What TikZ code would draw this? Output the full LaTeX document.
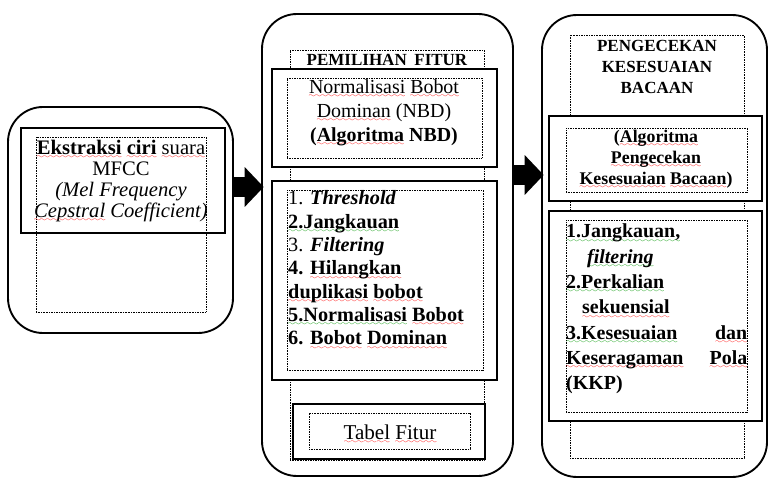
\documentclass[tikz,border=0pt]{standalone}
\usepackage{fontspec}
\setmainfont{Liberation Serif}
\usetikzlibrary{fit,arrows.meta,positioning}

% garis bergelombang (cek ejaan)
\font\wavefont=lasy6
\newcommand\squig[2]{\setbox0\hbox{#2}\leavevmode\rlap{\lower3.6pt\hbox to\wd0{\color{#1}\xleaders\hbox{\wavefont\char58}\hfill}}\box0\relax}
\newcommand\rw{\squig{red}}
\newcommand\gw{\squig{green!60!black}}

\tikzset{
  roundbox/.style={draw, line width=1.6pt, rounded corners=1.05cm, inner sep=0pt},
  thickbox/.style={draw, line width=2.5pt, fill=white, inner sep=0pt},
  dotbox/.style={draw, line width=0.6pt, dash pattern=on 0.7pt off 0.7pt, inner sep=0pt},
  fatarrow/.style={line width=0.6cm, shorten >=-0.08cm, -{Triangle[length=0.57cm, width=1.16cm]}},
  bigtxt/.style={inner sep=0pt, font=\fontsize{17}{18}\selectfont},
  midtxt/.style={inner sep=0pt, font=\fontsize{14.5}{17.9}\selectfont\bfseries}
}

\begin{document}
\begin{tikzpicture}[x=0.03cm, y=-0.03cm]
    \useasboundingbox (0,0) rectangle (770,478);

    % ekstraksi ciri
    \node[roundbox, fit={(8,107) (233,333)}]     (lbox) {};
    \node[thickbox, fill=none, fit={(21,128) (225,233)}] (lframe) {};
    \node[dotbox, fit={(36,137) (206,312)}]      (ldots) {};
    \node[bigtxt, align=center, font=\fontsize{17.6}{18}\selectfont] (ltext) at (121,181)
        {\textbf{\rw{Ekstraksi} \rw{ciri}} \rw{suara}\\MFCC\\\textit{(Mel Frequency}\\\textit{\rw{Cepstral} Coefficient)}};

    % pemilihan fitur
    \node[roundbox, fit={(262,14) (513,476)}]    (mbox) {};
    \node[dotbox, fit={(290,50) (484,460)}]      (mcol) {};
    \node[midtxt] (mtitle) at (387,60) {PEMILIHAN\hspace{0.45em}FITUR};
    \node[thickbox, fit={(272,69) (497,167)}]    (nbdbox) {};
    \node[dotbox, fit={(287,78) (482,158)}]      (nbddots) {};
    \node[bigtxt, align=center, font=\fontsize{17}{20.5}\selectfont] (nbdtext) at (384,113)
        {\rw{Normalisasi} \rw{Bobot}\\\rw{Dominan} (NBD)\\\textbf{(\rw{Algoritma} NBD)}};
    \node[thickbox, fit={(272,181) (497,380)}]   (stepbox) {};
    \node[dotbox, fit={(287,190) (483,370)}]     (stepdots) {};
    \node[bigtxt, align=left, anchor=west, font=\fontsize{17.3}{19.9}\selectfont\bfseries] (steptext) at (288,270)
        {{\mdseries 1.} \textit{Threshold}\\\gw{2.Jangkauan}\\{\mdseries 3.} \textit{Filtering}\\4. \rw{Hilangkan}\\
         \rw{duplikasi} \rw{bobot}\\\gw{5.Normalisasi} \rw{Bobot}\\6. \rw{Bobot} \rw{Dominan}};
    \node[thickbox, fit={(293,404) (485,459)}]   (tabbox) {};
    \node[dotbox, fit={(309,413) (470,449)}]     (tabdots) {};
    \node[bigtxt, font=\fontsize{18}{20}\selectfont] (tabtext) at (390,434) {\rw{Tabel} \rw{Fitur}};

    % pengecekan kesesuaian bacaan
    \node[roundbox, fit={(542,15) (767,477)}]    (rbox) {};
    \node[dotbox, fit={(570,35) (744,458)}]      (rcol) {};
    \node[midtxt, align=center] (rtitle) at (657,67) {PENGECEKAN\\KESESUAIAN\\BACAAN};
    \node[thickbox, fit={(549,116) (762,201)}]   (algbox) {};
    \node[dotbox, fit={(566,128) (747,192)}]     (algdots) {};
    \node[midtxt, align=center, font=\fontsize{15.2}{17.9}\selectfont\bfseries] (algtext) at (656,159)
        {(\rw{Algoritma}\\\rw{Pengecekan}\\\rw{Kesesuaian} \rw{Bacaan})};
    \node[thickbox, fit={(549,211) (762,421)}]   (chkbox) {};
    \node[dotbox, fit={(566,220) (747,412)}]     (chkdots) {};
    \node[bigtxt, align=left, anchor=west, text width=5.43cm, font=\fontsize{17}{21.6}\selectfont\bfseries] (chktext) at (566,309)
        {\gw{1.Jangkauan,}\\\hspace*{0.63cm}\gw{\textit{filtering}}\\\gw{2.Perkalian}\\\hspace*{0.48cm}\rw{sekuensial}\\
         \leavevmode\hbox to 5.43cm{\gw{3.Kesesuaian}\hfill\rw{dan}}\\
         \leavevmode\hbox to 5.43cm{\rw{Keseragaman}\hfill\rw{Pola}}\\(KKP)};

    % panah
    \coordinate (a1) at (0,187);
    \coordinate (a2) at (0,175);
    \draw[fatarrow] (lbox.east |- a1) -- (mbox.west |- a1);
    \draw[fatarrow] (mbox.east |- a2) -- (rbox.west |- a2);
\end{tikzpicture}
\end{document}
